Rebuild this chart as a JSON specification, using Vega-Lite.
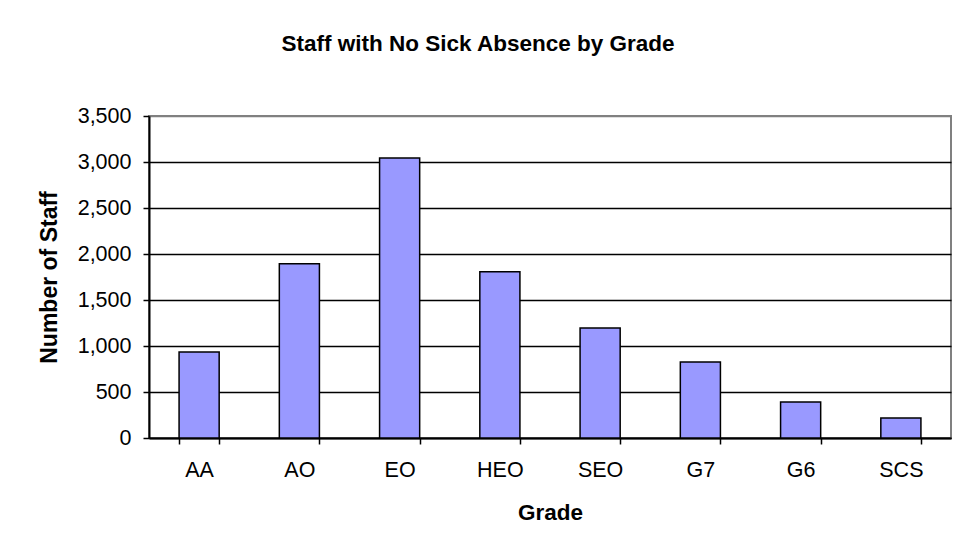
{
  "$schema": "https://vega.github.io/schema/vega-lite/v6.json",
  "width": 802,
  "height": 322,
  "autosize": {"type": "none"},
  "padding": {"left": 149, "top": 116, "right": 5, "bottom": 116},
  "background": "white",
  "title": {
    "text": "Staff with No Sick Absence by Grade",
    "font": "Liberation Sans",
    "fontSize": 22.5,
    "fontWeight": "bold",
    "color": "black",
    "anchor": "middle",
    "frame": "group",
    "dx": -72,
    "baseline": "alphabetic",
    "offset": 32
  },
  "data": {
    "values": [
      {"Grade": "AA", "Staff": 935},
      {"Grade": "AO", "Staff": 1894},
      {"Grade": "EO", "Staff": 3043},
      {"Grade": "HEO", "Staff": 1808},
      {"Grade": "SEO", "Staff": 1196},
      {"Grade": "G7", "Staff": 826},
      {"Grade": "G6", "Staff": 391},
      {"Grade": "SCS", "Staff": 217}
    ]
  },
  "mark": {"type": "bar", "color": "#9999FF", "stroke": "black", "strokeWidth": 1.5},
  "encoding": {
    "x": {
      "field": "Grade",
      "type": "nominal",
      "sort": null,
      "scale": {"paddingInner": 0.6, "paddingOuter": 0.3},
      "axis": {
        "title": "Grade",
        "labelAngle": 0,
        "tickBand": "extent",
        "tickSize": 6,
        "tickColor": "black",
        "tickWidth": 1.5,
        "domainColor": "black",
        "domainWidth": 2,
        "labelFont": "Liberation Sans",
        "labelFontSize": 21.5,
        "labelColor": "black",
        "labelPadding": 15,
        "titleFont": "Liberation Sans",
        "titleFontSize": 22.5,
        "titleFontWeight": "bold",
        "titleColor": "black",
        "titlePadding": 21,
        "grid": false
      }
    },
    "y": {
      "field": "Staff",
      "type": "quantitative",
      "scale": {"domain": [0, 3500], "nice": false},
      "axis": {
        "title": "Number of Staff",
        "values": [0, 500, 1000, 1500, 2000, 2500, 3000, 3500],
        "format": ",d",
        "tickSize": 6,
        "tickColor": "black",
        "tickWidth": 1.5,
        "domainColor": "black",
        "domainWidth": 2,
        "grid": true,
        "gridColor": {"condition": {"test": "datum.value === 3500", "value": "#808080"}, "value": "black"},
        "gridWidth": 1.5,
        "labelFont": "Liberation Sans",
        "labelFontSize": 21.5,
        "labelColor": "black",
        "labelPadding": 12,
        "titleFont": "Liberation Sans",
        "titleFontSize": 23,
        "titleFontWeight": "bold",
        "titleColor": "black",
        "titlePadding": 16
      }
    }
  },
  "config": {
    "view": {"stroke": "#808080", "strokeWidth": 2, "fill": "white"}
  }
}
